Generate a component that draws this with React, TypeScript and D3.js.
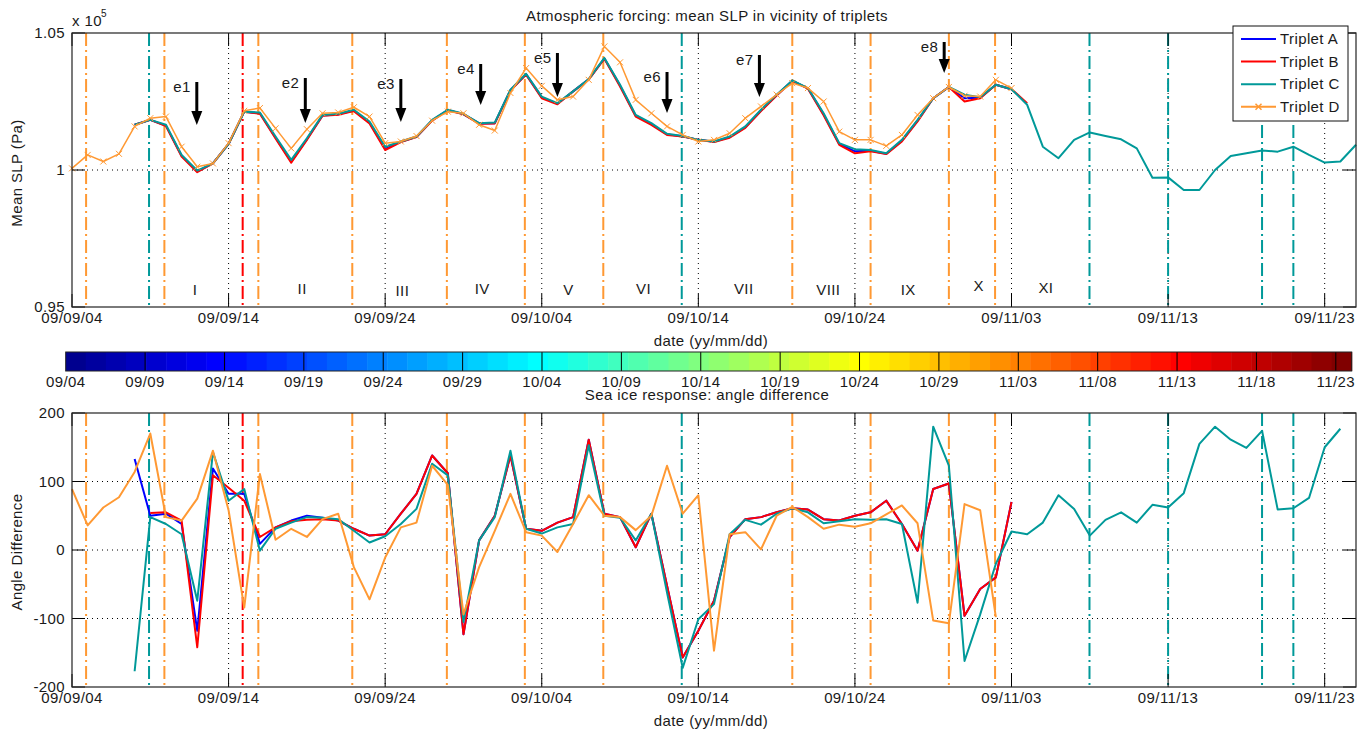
import React from 'react';
import * as d3 from 'd3';

// days counted from 2009-09-04
const xTickDays = [0, 10, 20, 30, 40, 50, 60, 70, 80];
const xTickLabels = ['09/09/04', '09/09/14', '09/09/24', '09/10/04', '09/10/14', '09/10/24', '09/11/03', '09/11/13', '09/11/23'];

const slpTicks = [95000, 100000, 105000];
const slpTickLabels = ['0.95', '1', '1.05'];
const angTicks = [-200, -100, 0, 100, 200];
const angTickLabels = ['-200', '-100', '0', '100', '200'];

const cbTickDays = [0, 5, 10, 15, 20, 25, 30, 35, 40, 45, 50, 55, 60, 65, 70, 75, 80];
const cbTickLabels = ['09/04', '09/09', '09/14', '09/19', '09/24', '09/29', '10/04', '10/09', '10/14', '10/19', '10/24', '10/29', '11/03', '11/08', '11/13', '11/18', '11/23'];

const names = ['Triplet A', 'Triplet B', 'Triplet C', 'Triplet D'];
const colors = ['#0000ff', '#ff0000', '#009999', '#ff9933'];

// mean SLP (Pa), one value per day
const slpStart = [4, 4, 4, 0];
const slpA = [101650, 101830, 101620, 100520, 99950, 100240, 100950, 102130, 102070, 101180, 100300, 101120, 101990, 102030, 102170, 101730, 100770, 101030, 101210, 101810, 102190, 102040, 101700, 101710, 102910, 103490, 102650, 102420, 102870, 103310, 104070, 103080, 101980, 101680, 101300, 101230, 101100, 101030, 101200, 101560, 102170, 102730, 103260, 102980, 102030, 100950, 100680, 100700, 100590, 101070, 101800, 102620, 103030, 102620, 102640, 103110, 102950];
const slpB = [101650, 101830, 101600, 100490, 99920, 100240, 100950, 102130, 102050, 101150, 100270, 101100, 101980, 102020, 102150, 101700, 100730, 101020, 101200, 101800, 102180, 102030, 101690, 101700, 102900, 103480, 102620, 102400, 102870, 103300, 104060, 103050, 101950, 101650, 101280, 101220, 101100, 101020, 101180, 101540, 102150, 102720, 103250, 102970, 102000, 100920, 100610, 100680, 100580, 101040, 101770, 102620, 103030, 102500, 102620, 103110, 102950, 102440];
const slpC = [101650, 101830, 101650, 100550, 99980, 100240, 100950, 102130, 102100, 101220, 100370, 101160, 102010, 102050, 102200, 101770, 100850, 101040, 101220, 101830, 102200, 102050, 101710, 101730, 102930, 103510, 102680, 102440, 102870, 103320, 104090, 103110, 102010, 101710, 101320, 101240, 101100, 101040, 101220, 101590, 102200, 102750, 103270, 102990, 102070, 100980, 100760, 100730, 100610, 101100, 101830, 102620, 103030, 102750, 102660, 103110, 102950, 102380, 100850, 100430, 101100, 101370, 101240, 101120, 100790, 99720, 99730, 99270, 99270, 100000, 100510, 100610, 100710, 100670, 100850, 100550, 100270, 100310, 100920];
const slpD = [100060, 100550, 100310, 100590, 101590, 101890, 101950, 100850, 100120, 100240, 100980, 102160, 102260, 101520, 100790, 101490, 102070, 102100, 102290, 101950, 100980, 101040, 101240, 101800, 102130, 102070, 101650, 101440, 102810, 103720, 103070, 102560, 102680, 103290, 104510, 103930, 102560, 102070, 101590, 101280, 101040, 101100, 101340, 101890, 102320, 102750, 103170, 102990, 102500, 101400, 101100, 101100, 100880, 101280, 102010, 102620, 103030, 102710, 102680, 103290, 102990];

// angle difference (deg), one value per day
const angStart = [4, 5, 4, 0];
const angA = [133, 50, 53, 38, -118, 119, 82, 82, 9, 33, 43, 50, 47, 43, 31, 21, 23, 53, 82, 138, 112, -123, 14, 50, 138, 31, 28, 40, 48, 161, 53, 48, 4, 53, -52, -157, -118, -74, 19, 45, 48, 55, 61, 59, 45, 43, 50, 55, 72, 38, -1, 89, 97, -96, -57, -40, 70];
const angB = [54, 55, 43, -142, 109, 91, 72, 19, 33, 42, 44, 45, 43, 31, 21, 23, 53, 82, 138, 112, -123, 14, 50, 138, 31, 28, 40, 48, 161, 53, 48, 4, 53, -52, -157, -118, -74, 19, 45, 48, 55, 61, 59, 45, 43, 50, 55, 72, 38, -1, 89, 97, -96, -57, -40, 70];
const angC = [-177, 48, 38, 23, -74, 143, 72, 89, -1, 31, 40, 48, 47, 45, 28, 11, 20, 38, 60, 126, 109, -105, 14, 48, 145, 31, 24, 33, 38, 153, 50, 47, 14, 53, -62, -172, -101, -79, 23, 44, 37, 53, 61, 55, 39, 42, 45, 44, 45, 38, -77, 180, 123, -162, -94, -20, 27, 23, 40, 80, 60, 21, 44, 55, 40, 66, 62, 83, 155, 180, 161, 149, 174, 59, 61, 76, 150, 177];
const angD = [89, 36, 62, 77, 114, 170, 48, 43, 75, 145, 58, -84, 111, 15, 31, 19, 45, 53, -25, -72, -11, 33, 40, 123, 95, -94, -25, 28, 82, 26, 21, -3, 38, 80, 50, 48, 29, 50, 123, 53, 80, -147, 23, 26, 1, 50, 63, 48, 31, 37, 34, 39, 52, 65, 39, -103, -107, 67, 58, -98];

// vertical event lines (day) for triplets B, C, D
const bLines = [10.9];
const cLines = [4.92, 38.94, 64.98, 70.0, 76.0, 78.0];
const dLines = [0.9, 5.9, 11.9, 17.9, 23.94, 28.92, 33.93, 46.0, 51.0, 56.0, 58.95];

// storm events e1..e8
const eventNames = ['e1', 'e2', 'e3', 'e4', 'e5', 'e6', 'e7', 'e8'];
const eventDays = [7.97, 14.9, 21.0, 26.1, 31.0, 38.0, 43.9, 55.7];
const eventTail = [103212, 103357, 103321, 103869, 104270, 103577, 104197, 104672];
const eventTip = [101642, 101715, 101752, 102372, 102664, 102080, 102664, 103540];

// periods
const periodLabels = ['I', 'II', 'III', 'IV', 'V', 'VI', 'VII', 'VIII', 'IX', 'X', 'XI'];
const periodDays = [7.86, 14.7, 21.1, 26.2, 31.7, 36.5, 42.9, 48.3, 53.4, 57.9, 62.2];
const periodY = [95620, 95680, 95580, 95680, 95640, 95680, 95680, 95620, 95620, 95780, 95720];

const FONT = '"Liberation Sans", Arial, sans-serif';
const TXT = '#1a1a1a';

function jet(m: number): string[] {
  const n = Math.ceil(m / 4);
  const u: number[] = [];
  for (let i = 1; i <= n; i++) u.push(i / n);
  for (let i = 1; i < n; i++) u.push(1);
  for (let i = n; i >= 1; i--) u.push(i / n);
  const off = Math.ceil(n / 2) - (m % 4 === 1 ? 1 : 0);
  const rgb = Array.from({ length: m }, () => [0, 0, 0]);
  u.forEach((v, k) => {
    const g = off + k + 1;
    if (g <= m) rgb[g - 1][1] = v;
    if (g + n <= m) rgb[g + n - 1][0] = v;
    if (g - n >= 1) rgb[g - n - 1][2] = v;
  });
  return rgb.map(c => d3.rgb(c[0] * 255, c[1] * 255, c[2] * 255).formatHex());
}

const plotL = 72, plotR = 1356;
const x = d3.scaleLinear().domain([0, 82]).range([plotL, plotR]);
const ySlp = d3.scaleLinear().domain([95000, 105000]).range([307, 33]);
const yAng = d3.scaleLinear().domain([-200, 200]).range([687, 413]);
const xCb = d3.scaleLinear().domain([0, 81]).range([65.7, 1351.7]);

type Pt = [number, number];
function pts(start: number, vals: number[]): Pt[] {
  return vals.map((v, i) => [start + i, v] as Pt);
}

const TL = 13;

function Grid({ y, ticks }: { y: d3.ScaleLinear<number, number>; ticks: number[] }) {
  const [b, t] = y.range();
  return (
    <g>
      {xTickDays.filter(d => d > 0 && d < 82).map(d => (
        <line key={'gx' + d} x1={x(d)} x2={x(d)} y1={t} y2={b} stroke="#000" strokeWidth={1} strokeDasharray="1 4" />
      ))}
      {ticks.filter(v => y(v) > t + 1 && y(v) < b - 1).map(v => (
        <line key={'gy' + v} x1={plotL} x2={plotR} y1={y(v)} y2={y(v)} stroke="#000" strokeWidth={1} strokeDasharray="1 4" />
      ))}
    </g>
  );
}

function Axes({ y, ticks, labels }: { y: d3.ScaleLinear<number, number>; ticks: number[]; labels: string[] }) {
  const [b, t] = y.range();
  return (
    <g>
      {xTickDays.map(d => (
        <g key={'tx' + d}>
          <line x1={x(d)} x2={x(d)} y1={b} y2={b - TL} stroke="#000" />
          <line x1={x(d)} x2={x(d)} y1={t} y2={t + TL} stroke="#000" />
        </g>
      ))}
      {ticks.map(v => (
        <g key={'ty' + v}>
          <line x1={plotL} x2={plotL + TL} y1={y(v)} y2={y(v)} stroke="#000" />
          <line x1={plotR} x2={plotR - TL} y1={y(v)} y2={y(v)} stroke="#000" />
        </g>
      ))}
      <rect x={plotL} y={t} width={plotR - plotL} height={b - t} fill="none" stroke="#222" strokeWidth={1.2} />
      {xTickDays.map((d, i) => (
        <text key={'lx' + d} x={x(d)} y={b + 11} dy="0.35em" textAnchor="middle" fontSize={15} letterSpacing={0.4} fill={TXT}>{xTickLabels[i]}</text>
      ))}
      {ticks.map((v, i) => (
        <text key={'ly' + v} x={65} y={y(v)} dy="0.35em" textAnchor="end" fontSize={15} letterSpacing={0.4} fill={TXT}>{labels[i]}</text>
      ))}
    </g>
  );
}

function VLines({ y }: { y: d3.ScaleLinear<number, number> }) {
  const [b, t] = y.range();
  const sets: [number[], string][] = [[dLines, colors[3]], [cLines, colors[2]], [bLines, colors[1]]];
  return (
    <g>
      {sets.map(([days, c], si) => days.map(d => (
        <line key={si + '-' + d} x1={x(d)} x2={x(d)} y1={t} y2={b} stroke={c} strokeWidth={2} strokeDasharray="13 4 2 4" />
      )))}
    </g>
  );
}

function Series({ y, starts, data, widths, markers }: { y: d3.ScaleLinear<number, number>; starts: number[]; data: number[][]; widths: number[]; markers: boolean }) {
  const line = d3.line<Pt>().x(d => x(d[0])).y(d => y(d[1]));
  return (
    <g>
      {data.map((vals, i) => (
        <path key={i} d={line(pts(starts[i], vals)) || ''} fill="none" stroke={colors[i]} strokeWidth={widths[i]} strokeLinejoin="round" />
      ))}
      {markers && pts(starts[3], data[3]).map((p, j) => (
        <path key={'m' + j} transform={`translate(${x(p[0])},${y(p[1])})`} d="M-3,-3L3,3M-3,3L3,-3" stroke={colors[3]} strokeWidth={1} />
      ))}
    </g>
  );
}

export default function App() {
  const cmap = jet(64);
  const cell = d3.scaleLinear().domain([0, 64]).range(xCb.range());
  return (
    <svg width={1369} height={733} style={{ position: 'absolute', left: 0, top: 0, background: '#fff' }} fontFamily={FONT}>
      <rect width={1369} height={733} fill="#fff" />

      {/* top panel */}
      <Grid y={ySlp} ticks={slpTicks} />
      <VLines y={ySlp} />
      <Series y={ySlp} starts={slpStart} data={[slpA, slpB, slpC, slpD]} widths={[2, 2, 2, 1.5]} markers={true} />
      <Axes y={ySlp} ticks={slpTicks} labels={slpTickLabels} />
      <text x={707} y={16} dy="0.35em" textAnchor="middle" fontSize={15} letterSpacing={0.4} fill={TXT}>Atmospheric forcing: mean SLP in vicinity of triplets</text>
      <text x={72} y={26} fontSize={15} letterSpacing={0.4} fill={TXT}>x 10</text>
      <text x={101} y={17} fontSize={10} fill={TXT}>5</text>
      <text transform="translate(17,173) rotate(-90)" dy="0.35em" textAnchor="middle" fontSize={15} letterSpacing={0.4} fill={TXT}>Mean SLP (Pa)</text>
      <text x={711} y={341} dy="0.35em" textAnchor="middle" fontSize={15} letterSpacing={0.4} fill={TXT}>date (yy/mm/dd)</text>

      {periodLabels.map((l, i) => (
        <text key={l} x={x(periodDays[i])} y={ySlp(periodY[i])} dy="0.35em" textAnchor="middle" fontSize={15} letterSpacing={0.4} fill={TXT}>{l}</text>
      ))}
      {eventNames.map((n, i) => {
        const ax = x(eventDays[i]);
        const y0 = ySlp(eventTail[i]);
        const y1 = ySlp(eventTip[i]);
        return (
          <g key={n}>
            <line x1={ax} x2={ax} y1={y0} y2={y1 - 10} stroke="#000" strokeWidth={3} />
            <path d={`M${ax - 5.5},${y1 - 14}L${ax + 5.5},${y1 - 14}L${ax},${y1}Z`} fill="#000" />
            <text x={ax - 6} y={y0 + 5} dy="0.35em" textAnchor="end" fontSize={15} letterSpacing={0.4} fill={TXT}>{n}</text>
          </g>
        );
      })}

      {/* legend */}
      <g>
        <rect x={1233} y={26} width={115} height={95} fill="#fff" stroke="#111" strokeWidth={1} />
        {names.map((n, i) => {
          const ly = 39 + i * 22.6;
          return (
            <g key={n}>
              <line x1={1241} x2={1276} y1={ly} y2={ly} stroke={colors[i]} strokeWidth={2} />
              {i === 3 && <path transform={`translate(1258.5,${ly})`} d="M-3,-3L3,3M-3,3L3,-3" stroke={colors[3]} strokeWidth={1.5} />}
              <text x={1280} y={ly} dy="0.35em" fontSize={15} letterSpacing={0.4} fill={TXT}>{n}</text>
            </g>
          );
        })}
      </g>

      {/* colorbar */}
      <g>
        {cmap.map((c, i) => (
          <rect key={i} x={cell(i)} y={352} width={cell(i + 1) - cell(i) + 0.5} height={19} fill={c} />
        ))}
        {cbTickDays.filter(d => d > 0).map(d => (
          <line key={d} x1={xCb(d)} x2={xCb(d)} y1={352} y2={371} stroke="#000" strokeWidth={1} />
        ))}
        <rect x={xCb(0)} y={352} width={xCb(81) - xCb(0)} height={19} fill="none" stroke="#222" strokeWidth={1} />
        {cbTickDays.map((d, i) => (
          <text key={'cl' + d} x={xCb(d)} y={382} dy="0.35em" textAnchor="middle" fontSize={15} letterSpacing={0.4} fill={TXT}>{cbTickLabels[i]}</text>
        ))}
      </g>

      {/* bottom panel */}
      <Grid y={yAng} ticks={angTicks} />
      <VLines y={yAng} />
      <Series y={yAng} starts={angStart} data={[angA, angB, angC, angD]} widths={[2, 2, 2, 2]} markers={false} />
      <Axes y={yAng} ticks={angTicks} labels={angTickLabels} />
      <text x={707} y={395} dy="0.35em" textAnchor="middle" fontSize={15} letterSpacing={0.4} fill={TXT}>Sea ice response: angle difference</text>
      <text transform="translate(17,552) rotate(-90)" dy="0.35em" textAnchor="middle" fontSize={15} letterSpacing={0.4} fill={TXT}>Angle Difference</text>
      <text x={711} y={721} dy="0.35em" textAnchor="middle" fontSize={15} letterSpacing={0.4} fill={TXT}>date (yy/mm/dd)</text>
    </svg>
  );
}
